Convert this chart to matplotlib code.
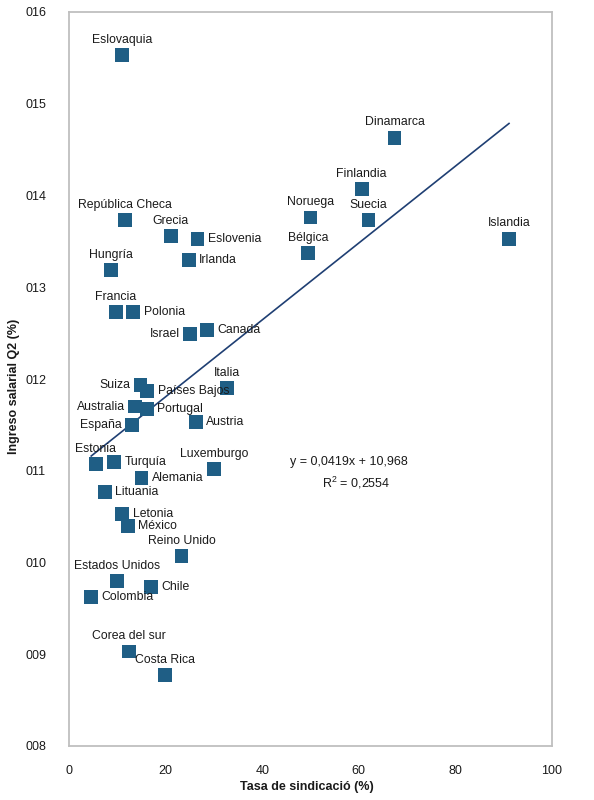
import matplotlib
matplotlib.use("Agg")
import matplotlib.pyplot as plt
import numpy as np

# --- data --- #
countries = [
    "Eslovaquia", "Dinamarca", "Finlandia", "Noruega", "Suecia", "Bélgica",
    "Islandia", "República Checa", "Grecia", "Eslovenia", "Irlanda", "Hungría",
    "Francia", "Polonia", "Israel", "Canadá", "Suiza", "Países Bajos", "Italia",
    "Australia", "Portugal", "España", "Austria", "Estonia", "Turquía",
    "Luxemburgo", "Alemania", "Lituania", "Letonia", "México", "Reino Unido",
    "Estados Unidos", "Chile", "Colombia", "Corea del sur", "Costa Rica",
]
union_rate = [
    11.0, 67.4, 60.6, 50.0, 62.0, 49.5,
    91.1, 11.6, 21.1, 26.6, 24.8, 8.7,
    9.7, 13.3, 25.1, 28.6, 14.8, 16.2, 32.7,
    13.7, 16.1, 13.0, 26.3, 5.5, 9.3,
    30.1, 15.0, 7.4, 11.0, 12.2, 23.3,
    9.9, 17.0, 4.6, 12.4, 19.9,
]
income_q2 = [
    15.53, 14.63, 14.07, 13.76, 13.73, 13.37,
    13.53, 13.73, 13.56, 13.53, 13.30, 13.19,
    12.73, 12.73, 12.49, 12.53, 11.93, 11.87, 11.90,
    11.70, 11.67, 11.50, 11.53, 11.07, 11.10,
    11.02, 10.92, 10.77, 10.53, 10.40, 10.07,
    9.80, 9.73, 9.62, 9.03, 8.77,
]
# where each data label sits (Excel style)
label_side = [
    "above", "above", "above", "above", "above", "above",
    "above", "above", "above", "right", "right", "above",
    "above", "right", "left", "right", "left", "right", "above",
    "left", "right", "left", "right", "above", "right",
    "above", "right", "right", "right", "right", "above",
    "above", "right", "right", "above", "above",
]
slope, intercept, r2 = 0.0419, 10.968, 0.2554
x_ticks = [0, 20, 40, 60, 80, 100]
y_ticks = [8, 9, 10, 11, 12, 13, 14, 15, 16]

plt.rcParams['font.family'] = ['Liberation Sans', 'DejaVu Sans']
plt.rcParams['mathtext.fontset'] = 'custom'
plt.rcParams['mathtext.rm'] = 'Liberation Sans'

marker_col = '#1F5E85'
line_col = '#1F3F73'
txt_col = '#1a1a1a'

fig = plt.figure(figsize=(5.94, 8), dpi=100)
ax = fig.add_axes([69/594, 1-746/800, (552-69)/594, (746-12)/800])

# trend line over the data range
xs = np.array([min(union_rate), max(union_rate)])
ax.plot(xs, slope*xs + intercept, color=line_col, lw=1.2, zorder=2)

ax.scatter(union_rate, income_q2, marker='s', s=100, color=marker_col,
           edgecolors='none', zorder=3)

offsets = {"above": ((0, 11), 'center'), "right": ((7.5, 0), 'left'),
           "left": ((-7.5, 0), 'right')}
for name, xv, yv, side in zip(countries, union_rate, income_q2, label_side):
    off, ha = offsets[side]
    ax.annotate(name, (xv, yv), xytext=off, textcoords='offset points',
                ha=ha, va='center', fontsize=8.8, color=txt_col, zorder=4)

ax.text(58.0, 11.09, "y = 0,0419x + 10,968", ha='center', va='center',
        fontsize=9, color=txt_col)
ax.text(59.5, 10.87, r"$\mathregular{R^2}$ = 0,2554", ha='center', va='center',
        fontsize=9, color=txt_col)

ax.set_xlim(0, 100)
ax.set_ylim(8, 16)
ax.set_xticks(x_ticks)
ax.set_yticks(y_ticks)
ax.set_yticklabels([f"{v:03d}" for v in y_ticks])
ax.tick_params(axis='y', length=0, pad=16.5, labelsize=9, colors=txt_col)
ax.tick_params(axis='x', length=0, pad=13.5, labelsize=9, colors=txt_col)
for sp in ax.spines.values():
    sp.set_color('#bfbfbf')
    sp.set_linewidth(1.3)

fig.text(306.5/594, 1-787/800, "Tasa de sindicació (%)", ha='center',
         va='center', fontsize=9, fontweight='bold', color=txt_col)
fig.text(14/594, 1-386/800, "Ingreso salarial Q2 (%)", ha='center',
         va='center', rotation=90, fontsize=9, fontweight='bold', color=txt_col)

fig.savefig("out.png", dpi=100)
